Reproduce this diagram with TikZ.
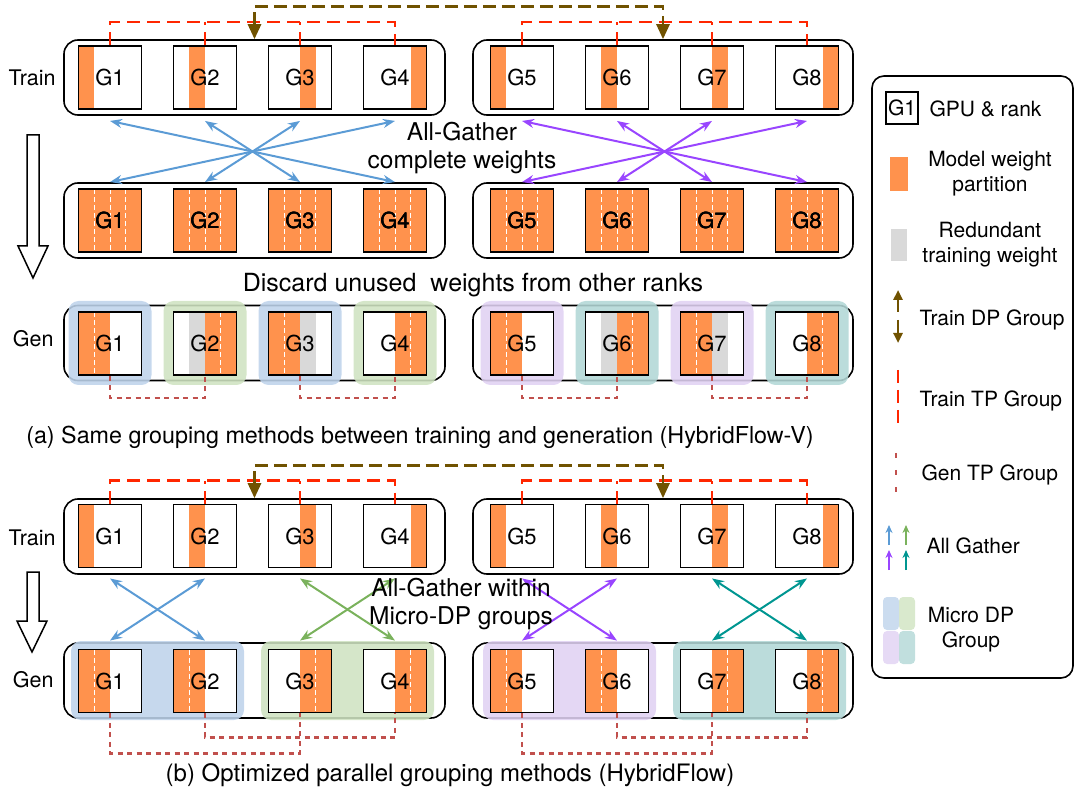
\documentclass[tikz,border=0pt]{standalone}
\usepackage{fontspec}
\setmainfont{TeX Gyre Heros}
\usetikzlibrary{arrows.meta}

\definecolor{wt}{RGB}{255,146,77}
\definecolor{rw}{RGB}{217,217,217}
\definecolor{mdpa}{RGB}{190,211,235}
\definecolor{mdpb}{RGB}{207,227,193}
\definecolor{mdpc}{RGB}{224,209,242}
\definecolor{mdpd}{RGB}{178,215,214}
\definecolor{agblue}{RGB}{91,155,213}
\definecolor{aggreen}{RGB}{122,178,92}
\definecolor{agpurple}{RGB}{153,69,255}
\definecolor{agteal}{RGB}{0,150,145}
\definecolor{dpbrown}{RGB}{112,82,0}
\definecolor{tpred}{RGB}{255,38,0}
\definecolor{gtp}{RGB}{193,80,77}

\tikzset{
  gpu/.style={draw, line width=1.9pt, minimum width=63pt, minimum height=63pt, inner sep=0pt, font=\fontsize{22}{26}\selectfont},
  grp/.style={draw, line width=1.6pt, rounded corners=14pt, minimum height=75pt, inner sep=0pt},
  cut/.style={white, line width=1pt, dash pattern=on 5pt off 3pt},
  ag/.style={line width=2pt, >={Stealth[length=12pt,width=9pt]}, <->},
  dp/.style={dpbrown, line width=2.8pt, dash pattern=on 13pt off 6pt, >={Triangle[length=15pt,width=13pt]}},
  ttp/.style={tpred, line width=2.8pt, dash pattern=on 13pt off 7pt},
  gentp/.style={gtp, line width=2.8pt, dash pattern=on 5pt off 4.5pt},
  hl/.style={rounded corners=10pt, opacity=0.88},
  side/.style={anchor=east, font=\fontsize{21.5}{25}\selectfont},
  note/.style={align=center, font=\fontsize{24.5}{28}\selectfont},
  captxt/.style={font=\fontsize{24}{28}\selectfont},
  leg/.style={align=center, font=\fontsize{21}{25}\selectfont},
  hollow/.style={draw, line width=1.5pt, fill=white}
}

% one quarter of a gpu box: centre x, centre y, quarter, colour
\newcommand{\wq}[4]{\fill[fill=#4] ({#1-31.5+(#3-1)*15.75},{#2-31.5}) rectangle ++(15.75,63);}
% white cut between two quarters
\newcommand{\wcut}[3]{\draw[cut] ({#1-31.5+#3*15.75},{#2-31.5}) -- ++(0,63);}

\begin{document}
\begin{tikzpicture}[x=1pt,y=-1pt]
\useasboundingbox (0,0) rectangle (1080,802);

% rows
\foreach \n/\y in {ta/77.5, ma/220.5, ga/343, tb/536.5, gb/680.5}{
  \node[grp, minimum width=381pt] (\n-L) at (254.5,\y) {};
  \node[grp, minimum width=380pt] (\n-R) at (663,\y) {};
}

% train
\foreach \n/\y in {ta/77.5, tb/536}{
  \foreach \i/\x in {1/110,2/205,3/300,4/395,5/522,6/617,7/712,8/807}{
    \pgfmathtruncatemacro{\q}{mod(\i-1,4)+1}
    \wq{\x}{\y}{\q}{wt}
    \node[gpu] (\n\i) at (\x,\y) {G\i};
  }
}

% complete weights
\foreach \i/\x in {1/110,2/205,3/300,4/395,5/522,6/617,7/712,8/807}{
  \fill[wt] (\x-31.5,189) rectangle ++(63,63);
  \foreach \k in {1,2,3} \wcut{\x}{220.5}{\k}
  \node[gpu] (ma\i) at (\x,220.5) {G\i};
}

% gen (a)
\foreach \i/\x/\a/\b/\c/\d/\k/\h in {1/110/wt/wt/white/white/1/mdpa, 2/205/white/rw/wt/wt/3/mdpb,
    3/300/wt/wt/rw/white/1/mdpa, 4/395/white/white/wt/wt/3/mdpb, 5/522/wt/wt/white/white/1/mdpc,
    6/617/white/rw/wt/wt/3/mdpd, 7/712/wt/wt/rw/white/1/mdpc, 8/807/white/white/wt/wt/3/mdpd}{
  \fill[hl, fill=\h] (\x-41.5,301) rectangle (\x+41.5,385);
  \wq{\x}{343.5}{1}{\a} \wq{\x}{343.5}{2}{\b} \wq{\x}{343.5}{3}{\c} \wq{\x}{343.5}{4}{\d}
  \wcut{\x}{343.5}{\k}
  \node[gpu] (ga\i) at (\x,343.5) {G\i};
}

% gen (b)
\foreach \xa/\xb/\h in {110/205/mdpa, 300/395/mdpb, 522/617/mdpc, 712/807/mdpd}
  \fill[hl, fill=\h] (\xa-39,641) rectangle (\xb+39,720);
\foreach \i/\x/\a/\c/\k in {1/110/wt/white/1, 2/205/wt/white/1, 3/300/white/wt/3, 4/395/white/wt/3,
    5/522/wt/white/1, 6/617/wt/white/1, 7/712/white/wt/3, 8/807/white/wt/3}{
  \wq{\x}{681}{1}{\a} \wq{\x}{681}{2}{\a} \wq{\x}{681}{3}{\c} \wq{\x}{681}{4}{\c}
  \wcut{\x}{681}{\k}
  \node[gpu] (gb\i) at (\x,681) {G\i};
}

% train TP and DP groups
\foreach \n in {ta,tb}{
  \draw[ttp] (\n1.north) -- ++(0,-23) -| (\n4.north);
  \draw[ttp] (\n5.north) -- ++(0,-23) -| (\n8.north);
  \foreach \i in {2,3,6,7} \draw[ttp] (\n\i.north) -- ++(0,-23);
  \draw[dp, <->] (\n-L.north) -- ++(0,-33) -| (\n-R.north);
}

% all-gather
\foreach \s/\t in {1/4,2/3,3/2,4/1} \draw[ag, agblue] ([yshift=-11pt]ta\s.south) -- ([yshift=6pt]ma\t.north);
\foreach \s/\t in {5/8,6/7,7/6,8/5} \draw[ag, agpurple] ([yshift=-11pt]ta\s.south) -- ([yshift=6pt]ma\t.north);
\foreach \s/\t/\c in {1/2/agblue,2/1/agblue,3/4/aggreen,4/3/aggreen,5/6/agpurple,6/5/agpurple,7/8/agteal,8/7/agteal}
  \draw[ag, draw=\c] ([yshift=-10pt]tb\s.south) -- ([yshift=8pt]gb\t.north);

% gen TP groups
\foreach \a/\b in {1/2,3/4,5/6,7/8} \draw[gentp] (ga\a.south) -- ++(0,22) -| (ga\b.south);
\foreach \a/\b/\d in {1/3/40,2/4/24,5/7/40,6/8/24} \draw[gentp] (gb\a.south) -- ++(0,\d) -| (gb\b.south);

% labels
\node[side] (trna) at (59,78) {Train};
\node[side] (gena) at (57,339) {Gen};
\node[side] (trnb) at (59,538) {Train};
\node[side] (genb) at (57,680) {Gen};
\node[note] (agtxt) at (462,148) {All-Gather\\complete weights};
\node[note, font=\fontsize{25}{28}\selectfont] (dctxt) at (473,285) {Discard unused\ \ weights from other ranks};
\node[note] (mdptxt) at (461,604) {All-Gather within\\Micro-DP groups};
\node[captxt, font=\fontsize{23.3}{28}\selectfont] (capa) at (420,437) {(a) Same grouping methods between training and generation (HybridFlow-V)};
\node[captxt] (capb) at (450,775) {(b) Optimized parallel grouping methods (HybridFlow)};

% reshard arrows
\draw[hollow] (27,135) -- (39,135) -- (39,246) -- (48,246) -- (33,278) -- (18,246) -- (27,246) -- cycle;
\draw[hollow] (27,572) -- (39,572) -- (39,621) -- (47,621) -- (32,652) -- (17,621) -- (27,621) -- cycle;

% legend
\node[grp, rounded corners=12pt, minimum width=201pt, minimum height=602pt] (lgd) at (972.5,377) {};
\node[draw, line width=1.6pt, minimum size=32pt, inner sep=0pt, leg] (lgpu) at (902,108) {G1};
\node[leg, anchor=west] (lgput) at (926,109) {GPU \& rank};
\fill[wt] (890,157) rectangle (908,191);
\node[leg] (lwt) at (990,174) {Model weight\\partition};
\fill[rw] (891,229) rectangle (907,261);
\node[leg] (lrw) at (990,245) {Redundant\\training weight};
\draw[dpbrown, line width=2.4pt, -{Triangle[length=10pt,width=9pt]}] (898,312) -- (898,290);
\draw[dpbrown, line width=2.4pt, -{Triangle[length=10pt,width=9pt]}] (898,320) -- (898,343);
\node[leg, anchor=west] (ldp) at (916,320) {Train DP Group};
\draw[ttp] (898,370) -- (898,423);
\node[leg, anchor=west] (ltp) at (916,401) {Train TP Group};
\draw[gentp, dash pattern=on 5pt off 12pt] (896,453) -- (896,497);
\node[leg, anchor=west] (lgtp) at (918,475) {Gen TP Group};
\foreach \x/\y/\c in {889/545/agblue, 906/545/aggreen, 889/570/agpurple, 906/570/agteal}
  \draw[draw=\c, line width=1.8pt, -{Stealth[length=8pt,width=7pt]}] (\x,\y) -- ++(0,-20);
\node[leg, anchor=west] (lag) at (923,546) {All Gather};
\foreach \x/\y/\c in {883/597/mdpa, 899/597/mdpb, 883/631/mdpc, 899/631/mdpd}
  \fill[fill=\c, rounded corners=4pt, opacity=0.8] (\x,\y) rectangle ++(16,33);
\node[leg] (lmdp) at (971,630) {Micro DP\\Group};
\end{tikzpicture}
\end{document}
